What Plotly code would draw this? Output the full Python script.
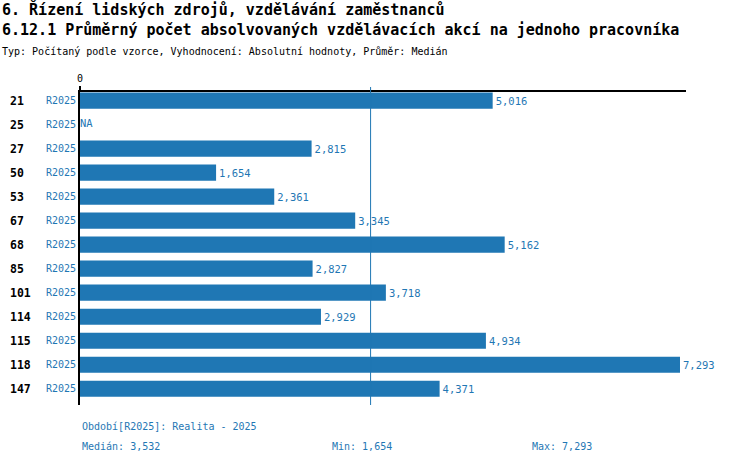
import plotly.graph_objects as go

# data
kategorie = ["21", "25", "27", "50", "53", "67", "68", "85", "101", "114", "115", "118", "147"]
hodnoty = [5.016, None, 2.815, 1.654, 2.361, 3.345, 5.162, 2.827, 3.718, 2.929, 4.934, 7.293, 4.371]
obdobi = "R2025"
median = 3.532
minimum = 1.654
maximum = 7.293

modra = "#1f77b4"
pismo = "DejaVu Sans Mono"


def fmt(v):
    return "NA" if v is None else ("%.3f" % v).replace(".", ",")


fig = go.Figure()
fig.add_trace(go.Bar(
    x=hodnoty, y=kategorie, orientation="h",
    marker=dict(color=modra, line=dict(width=0)),
    text=[fmt(v) for v in hodnoty], textposition="outside", cliponaxis=False,
    outsidetextfont=dict(family=pismo, size=10.5, color=modra),
    hoverinfo="skip"
))
# "NA" for missing values at the zero line
na_y = [k for k, v in zip(kategorie, hodnoty) if v is None]
fig.add_trace(go.Scatter(
    x=[0] * len(na_y), y=na_y,
    mode="text", text=["NA"] * len(na_y),
    textposition="middle right", cliponaxis=False,
    textfont=dict(family=pismo, size=10.5, color=modra),
    hoverinfo="skip"
))

# median line
fig.add_shape(type="line", xref="x", yref="paper", x0=median, x1=median,
              y0=0, y1=1.016, line=dict(color=modra, width=1))

anot = []
# titles
anot.append(dict(text="<b>6. Řízení lidských zdrojů, vzdělávání zaměstnanců</b>",
                 x=0, xshift=-80, y=1, yshift=83, font=dict(size=15, color="black")))
anot.append(dict(text="<b>6.12.1 Průměrný počet absolvovaných vzdělávacích akcí na jednoho pracovníka</b>",
                 x=0, xshift=-80, y=1, yshift=62, font=dict(size=15, color="black")))
anot.append(dict(text="Typ: Počítaný podle vzorce, Vyhodnocení: Absolutní hodnoty, Průměr: Medián",
                 x=0, xshift=-80, y=1, yshift=41, font=dict(size=10, color="black")))
# category numbers (bold) on the far left
for i, k in enumerate(kategorie):
    anot.append(dict(text="<b>" + k + "</b>", xref="paper", yref="y", x=0, xshift=-72,
                     y=i, font=dict(size=11.5, color="black")))
# footer
anot.append(dict(text="Období[" + obdobi + "]: Realita - 2025",
                 x=0, y=0, yshift=-21, font=dict(size=10, color=modra)))
anot.append(dict(text="Medián: " + fmt(median), x=0, y=0, yshift=-41, font=dict(size=10, color=modra)))
anot.append(dict(text="Min: " + fmt(minimum), x=0, xshift=250, y=0, yshift=-41,
                 font=dict(size=10, color=modra)))
anot.append(dict(text="Max: " + fmt(maximum), x=0, xshift=450, y=0, yshift=-41,
                 font=dict(size=10, color=modra)))
for a in anot:
    a.setdefault("xref", "paper")
    a.setdefault("yref", "paper")
    a.update(xanchor="left", yanchor="middle", showarrow=False)
    a["font"]["family"] = pismo

fig.update_layout(
    width=750, height=464,
    margin=dict(l=80, r=64, t=92, b=59),
    paper_bgcolor="white", plot_bgcolor="white",
    showlegend=False, bargap=0.33,
    font=dict(family=pismo, size=10, color="black"),
    annotations=anot,
    xaxis=dict(side="top", range=[0, maximum * 1.01], tickvals=[0], ticktext=["0"],
               showgrid=False, zeroline=False, showline=True, linecolor="black", linewidth=2,
               ticks="outside", ticklen=4, tickwidth=2, tickcolor="black",
               tickfont=dict(size=10, color="black")),
    yaxis=dict(type="category", categoryorder="array", categoryarray=kategorie,
               range=[12.68, -0.36], tickvals=kategorie, ticktext=[obdobi] * len(kategorie),
               tickfont=dict(size=10, color=modra), ticks="", ticklen=0,
               showgrid=False, zeroline=False, showline=True, linecolor="black", linewidth=2),
)

fig.write_html("out.html", config={"displayModeBar": False},
               post_script="document.body.style.margin='0';")
